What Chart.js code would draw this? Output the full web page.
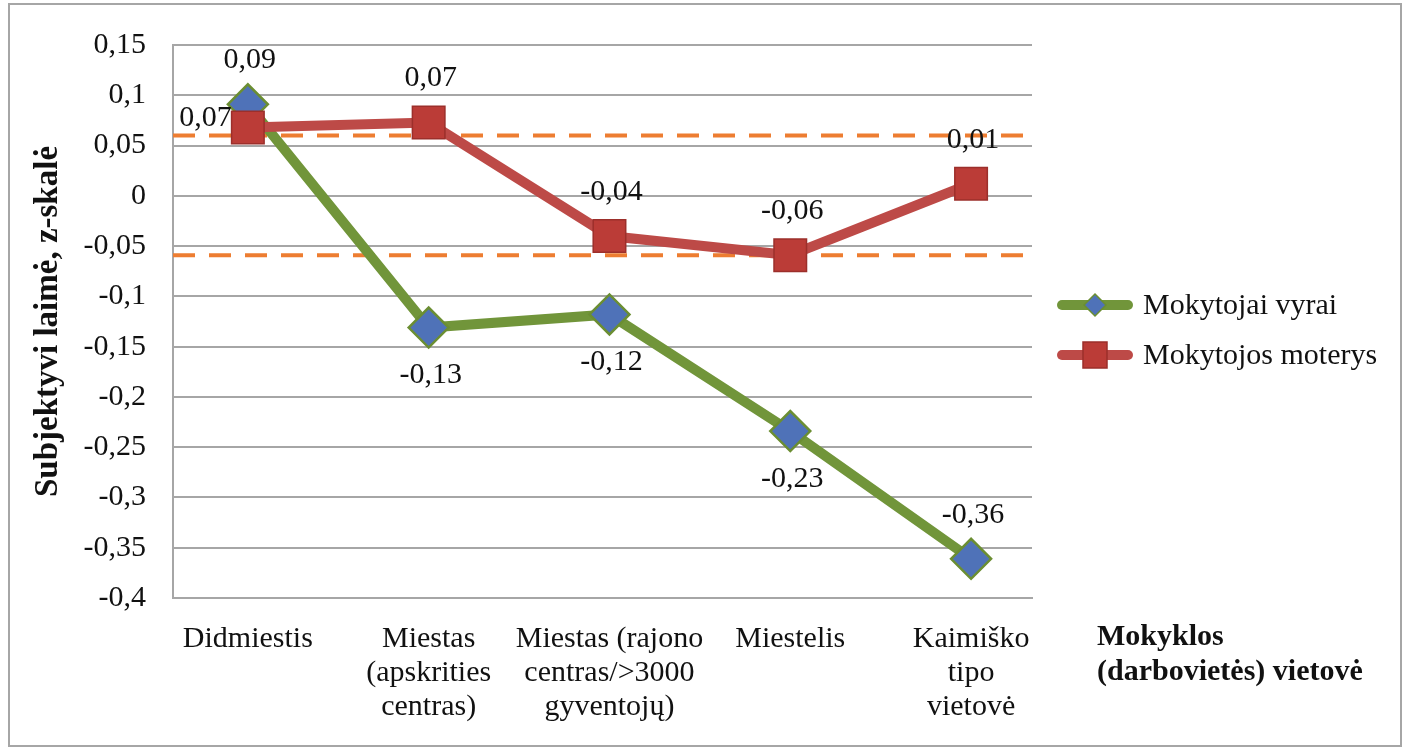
<!DOCTYPE html>
<html lang="lt">
<head>
    <meta charset="UTF-8">
    <title>Subjektyvi laimė</title>
    <script src="https://cdn.jsdelivr.net/npm/chart.js"></script>
    <style>
        body { margin: 0; background: #fff; }
        #wrap { position: relative; width: 1407px; height: 747px; }
        #frame {
            position: absolute; left: 8px; top: 3px; width: 1390px; height: 740px;
            border: 2px solid #a6a6a6; pointer-events: none;
        }
    </style>
</head>
<body>
    <div id="wrap">
        <canvas id="chart"></canvas>
        <div id="frame"></div>
    </div>

    <script>
        // data
        const categories = [
            ['Didmiestis'],
            ['Miestas', '(apskrities', 'centras)'],
            ['Miestas (rajono', 'centras/>3000', 'gyventojų)'],
            ['Miestelis'],
            ['Kaimiško', 'tipo', 'vietovė']
        ];
        const menValues = [0.091, -0.131, -0.118, -0.234, -0.361];
        const womenValues = [0.068, 0.073, -0.040, -0.059, 0.012];
        const referenceLines = [0.06, -0.059];
        const seriesNames = ['Mokytojai vyrai', 'Mokytojos moterys'];
        const xTitle = ['Mokyklos', '(darbovietės) vietovė'];
        const yTitle = 'Subjektyvi laimė, z-skalė';

        const FONT = "'Liberation Serif', 'Times New Roman', serif";
        const GRID = '#a6a6a6';
        const xMin = -0.414, xMax = 4.337;

        const fmt = v => String(Math.round(v * 100) / 100).replace('.', ',');

        const datasets = [
            {
                label: seriesNames[1],
                data: womenValues.map((v, i) => ({ x: i, y: v })),
                borderColor: '#bd4a47',
                borderWidth: 10,
                pointStyle: 'rect',
                pointRadius: 23,
                pointBackgroundColor: '#bb3c37',
                pointBorderColor: '#9c2f2b',
                pointBorderWidth: 1.5,
                order: 0,
                inLegend: 2,
                labelSide: ['left', 'above', 'above', 'above', 'above']
            },
            {
                label: seriesNames[0],
                data: menValues.map((v, i) => ({ x: i, y: v })),
                borderColor: '#71953a',
                borderWidth: 10,
                pointStyle: 'rectRot',
                pointRadius: 20,
                pointBackgroundColor: '#4f72b8',
                pointBorderColor: '#6b8e32',
                pointBorderWidth: 2.5,
                order: 1,
                inLegend: 1,
                labelSide: ['above', 'below', 'below', 'below', 'above']
            }
        ];
        referenceLines.forEach(v => {
            datasets.push({
                data: [{ x: xMin, y: v }, { x: xMax, y: v }],
                borderColor: '#ed7d31',
                borderWidth: 4,
                borderDash: [22, 14],
                pointRadius: 0,
                order: 2
            });
        });

        const labelsPlugin = {
            id: 'pointLabels',
            afterDatasetsDraw(chart) {
                const ctx = chart.ctx;
                ctx.save();
                ctx.font = '30px ' + FONT;
                ctx.fillStyle = '#111';
                ctx.textBaseline = 'middle';
                chart.data.datasets.forEach((ds, di) => {
                    if (!ds.labelSide) return;
                    chart.getDatasetMeta(di).data.forEach((pt, i) => {
                        const side = ds.labelSide[i];
                        const txt = fmt(ds.data[i].y);
                        if (side === 'left') {
                            ctx.textAlign = 'right';
                            ctx.fillText(txt, pt.x - 16, pt.y - 9);
                        } else {
                            ctx.textAlign = 'center';
                            ctx.fillText(txt, pt.x + 2, side === 'above' ? pt.y - 44 : pt.y + 48);
                        }
                    });
                });
                ctx.restore();
            }
        };

        const legendPlugin = {
            id: 'sideLegend',
            afterDraw(chart) {
                const ctx = chart.ctx;
                ctx.save();
                const items = chart.data.datasets.filter(d => d.inLegend).sort((a, b) => a.inLegend - b.inLegend);
                items.forEach((ds, k) => {
                    const y = 305 + k * 50;
                    ctx.strokeStyle = ds.borderColor;
                    ctx.lineWidth = 10;
                    ctx.lineCap = 'round';
                    ctx.beginPath();
                    ctx.moveTo(1062, y);
                    ctx.lineTo(1128, y);
                    ctx.stroke();
                    ctx.fillStyle = ds.pointBackgroundColor;
                    ctx.strokeStyle = ds.pointBorderColor;
                    ctx.lineWidth = 1.5;
                    ctx.beginPath();
                    if (ds.pointStyle === 'rect') {
                        ctx.rect(1083, y - 13, 24, 26);
                    } else {
                        ctx.moveTo(1095, y - 11); ctx.lineTo(1106, y); ctx.lineTo(1095, y + 11); ctx.lineTo(1084, y);
                        ctx.closePath();
                    }
                    ctx.fill();
                    ctx.stroke();
                    ctx.fillStyle = '#111';
                    ctx.font = '30px ' + FONT;
                    ctx.textAlign = 'left';
                    ctx.textBaseline = 'middle';
                    ctx.fillText(ds.label, 1143, y + 1);
                });
                ctx.font = 'bold 30px ' + FONT;
                ctx.textBaseline = 'alphabetic';
                xTitle.forEach((line, k) => ctx.fillText(line, 1097, 645 + k * 35));
                ctx.restore();
            }
        };

        new Chart(document.getElementById('chart'), {
            type: 'line',
            data: { datasets: datasets },
            options: {
                responsive: true,
                maintainAspectRatio: false,
                animation: false,
                layout: { padding: { top: 45, right: 375, bottom: 0, left: 0 } },
                plugins: { legend: { display: false }, tooltip: { enabled: false } },
                scales: {
                    x: {
                        type: 'linear',
                        min: xMin,
                        max: xMax,
                        afterBuildTicks: axis => { axis.ticks = categories.map((c, i) => ({ value: i })); },
                        afterFit: axis => { axis.height = 149; },
                        grid: { display: false },
                        border: { display: true, color: GRID, width: 2 },
                        ticks: {
                            autoSkip: false,
                            maxRotation: 0,
                            padding: 16,
                            color: '#111',
                            font: { family: FONT, size: 30, lineHeight: 1.13 },
                            callback: v => categories[v]
                        }
                    },
                    y: {
                        min: -0.4,
                        max: 0.15,
                        afterFit: axis => { axis.width = 173; },
                        grid: { color: GRID, lineWidth: 2, drawTicks: false },
                        border: { display: true, color: GRID, width: 2 },
                        ticks: {
                            stepSize: 0.05,
                            padding: 27,
                            color: '#111',
                            font: { family: FONT, size: 30 },
                            callback: v => fmt(v)
                        },
                        title: {
                            display: true,
                            text: yTitle,
                            color: '#111',
                            padding: { top: 30, bottom: 0 },
                            font: { family: FONT, size: 33, weight: 'bold', lineHeight: 1.1 }
                        }
                    }
                }
            },
            plugins: [labelsPlugin, legendPlugin]
        });
    </script>
</body>
</html>
